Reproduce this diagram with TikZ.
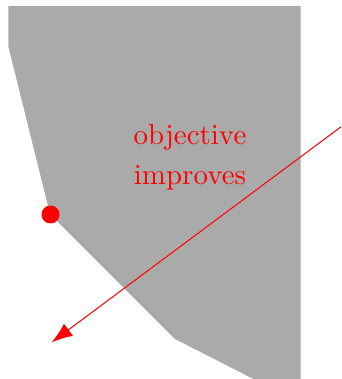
\documentclass[tikz,border=0pt]{standalone}
\usetikzlibrary{arrows.meta}
\definecolor{regiongray}{RGB}{170,170,170}
\begin{document}
\begin{tikzpicture}[x=0.345pt,y=-0.345pt,
  region/.style={fill=regiongray,draw=none},
  optdot/.style={circle,fill=red,inner sep=0pt,minimum size=6.2pt},
  objarrow/.style={draw=red,line width=0.35pt,-{Latex[length=7.2pt,width=5.2pt]}},
  objlabel/.style={text=red,align=center,font=\fontsize{10}{13.8}\selectfont}]
\useasboundingbox (0,0) rectangle (341,379);
\clip (0,0) rectangle (341,379);
\fill[region] (8.5,6) -- (300.7,6) -- (300.7,403) -- (175,339) -- (50,214) -- (8.5,47) -- cycle;
\node[optdot] (opt) at (50.5,214.5) {};
\coordinate (arrstart) at (381,97);
\coordinate (arrend) at (51.7,342.3);
\draw[objarrow] (arrstart) -- (arrend);
\node[objlabel] (lbl) at (190,157) {objective\\improves};
\end{tikzpicture}
\end{document}
